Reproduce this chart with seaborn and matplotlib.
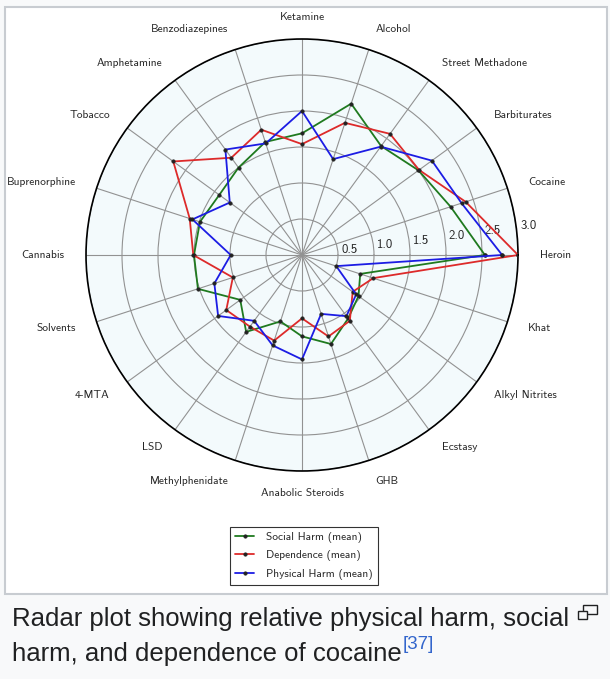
import numpy as np
import pandas as pd
import matplotlib
matplotlib.use("Agg")
import matplotlib.pyplot as plt
import matplotlib.patches as mpatches
import matplotlib.transforms as mtransforms
from matplotlib.lines import Line2D
import seaborn as sns

drugs = ["Heroin", "Cocaine", "Barbiturates", "Street Methadone", "Alcohol",
         "Ketamine", "Benzodiazepines", "Amphetamine", "Tobacco", "Buprenorphine",
         "Cannabis", "Solvents", "4-MTA", "LSD", "Methylphenidate",
         "Anabolic Steroids", "GHB", "Ecstasy", "Alkyl Nitrites", "Khat"]
physical = [2.78, 2.33, 2.23, 1.86, 1.40, 2.00, 1.63, 1.81, 1.24, 1.60,
            0.99, 1.28, 1.44, 1.13, 1.32, 1.45, 0.86, 1.05, 0.93, 0.50]
dependence = [3.00, 2.39, 2.01, 2.08, 1.93, 1.54, 1.83, 1.67, 2.21, 1.64,
              1.51, 1.01, 1.30, 1.23, 1.25, 0.88, 1.19, 1.13, 0.87, 1.04]
social = [2.54, 2.17, 2.00, 1.87, 2.21, 1.69, 1.65, 1.50, 1.42, 1.49,
          1.50, 1.52, 1.06, 1.32, 0.97, 1.13, 1.30, 1.09, 0.97, 0.85]
series_names = ["Social Harm (mean)", "Dependence (mean)", "Physical Harm (mean)"]
series_colors = ["#1f7a1f", "#dd2a2a", "#1c1ce4"]
r_ticks = [0.5, 1.0, 1.5, 2.0, 2.5, 3.0]
r_tick_labels = ["0.5", "1.0", "1.5", "2.0", "2.5", "3.0"]
caption_line1 = "Radar plot showing relative physical harm, social"
caption_line2 = "harm, and dependence of cocaine"
caption_ref = "[37]"

sns.set_style("white")
plt.rcParams["font.family"] = ["cmss10", "DejaVu Sans"]
plt.rcParams["axes.unicode_minus"] = False

W, H = 610, 679
fig = plt.figure(figsize=(W / 100, H / 100), dpi=100)
fig.patch.set_facecolor("#f8f9fa")

# white image box with border
box = mpatches.Rectangle((5 / W, 1 - 594 / H), (607 - 5) / W, (594 - 7) / H,
                         transform=fig.transFigure, facecolor="white",
                         edgecolor="#c8ccd1", linewidth=1.5, zorder=-5)
fig.patches.append(box)

cx, cy, rad = 302, 255, 216
ax = fig.add_axes([(cx - rad) / W, (H - cy - rad) / H, 2 * rad / W, 2 * rad / H],
                  projection="polar")
ax.set_zorder(2)
ax.set_facecolor("#f3fafc")

n = len(drugs)
theta = np.deg2rad(np.arange(n) * 360.0 / n)
theta_closed = np.append(theta, 2 * np.pi)

values = {"Social Harm (mean)": social,
          "Dependence (mean)": dependence,
          "Physical Harm (mean)": physical}

for name, col in zip(series_names, series_colors):
    v = list(values[name])
    df = pd.DataFrame({"theta": theta_closed, "value": v + [v[0]]})
    sns.lineplot(data=df, x="theta", y="value", ax=ax, sort=False, estimator=None,
                 color=col, linewidth=1.3, marker="o", markersize=2.6,
                 markerfacecolor="#222222", markeredgecolor="#222222",
                 markeredgewidth=0.3, zorder=3)

ax.set_ylim(0, 3.0)
ax.set_yticks(r_ticks)
ax.set_yticklabels(r_tick_labels, fontsize=9.2)
ax.set_rlabel_position(7.6)
ax.tick_params(axis="y", pad=6)
shift = mtransforms.ScaledTranslation(4 / 100, 0, fig.dpi_scale_trans)
for lab in ax.get_yticklabels():
    lab.set_ha("left")
    lab.set_va("center")
    lab.set_transform(lab.get_transform() + shift)

ax.set_xticks(theta)
ax.set_xticklabels(drugs, fontsize=8.2)
ax.tick_params(axis="x", pad=5)
for lab, t in zip(ax.get_xticklabels(), theta):
    c = np.cos(t)
    lab.set_ha("left" if c > 0.15 else ("right" if c < -0.15 else "center"))
    lab.set_va("center")

ax.set_xlabel("")
ax.set_ylabel("")
ax.grid(True, color="#929292", linewidth=0.8)
ax.spines["polar"].set_color("black")
ax.spines["polar"].set_linewidth(1.2)

handles = [Line2D([0], [0], color=c, lw=1.3, marker="o", markersize=2.6,
                  markerfacecolor="#222222", markeredgecolor="#222222",
                  markeredgewidth=0.3)
           for c in series_colors]
leg = fig.legend(handles, series_names, loc="upper left",
                 bbox_to_anchor=(224 / W, 1 - 521 / H), fontsize=8.2,
                 frameon=True, fancybox=False, edgecolor="black",
                 handlelength=1.6, handletextpad=1.05, borderpad=0.5,
                 labelspacing=0.62)
leg.get_frame().set_linewidth(0.8)
leg.set_zorder(3)

# caption
cap_kw = dict(family=["Liberation Sans", "DejaVu Sans"], fontsize=18.5,
              color="#202122", va="baseline", ha="left")
fig.text(12 / W, 1 - 626 / H, caption_line1, **cap_kw)
t2 = fig.text(12 / W, 1 - 661 / H, caption_line2, **cap_kw)
fig.canvas.draw()
bb = t2.get_window_extent(renderer=fig.canvas.get_renderer())
fig.text(bb.x1 / W + 1 / W, 1 - 649 / H, caption_ref,
         family=["Liberation Sans", "DejaVu Sans"], fontsize=13.5,
         color="#3366cc", va="baseline", ha="left")

# enlarge icon
for (x0, y0, w, h) in [(583, 605, 14, 9), (578, 611, 9, 8)]:
    fig.patches.append(mpatches.Rectangle((x0 / W, 1 - (y0 + h) / H), w / W, h / H,
                                          transform=fig.transFigure,
                                          facecolor="#f8f9fa", edgecolor="#202122",
                                          linewidth=1.0))

fig.savefig("out.png", dpi=100, facecolor=fig.get_facecolor())
